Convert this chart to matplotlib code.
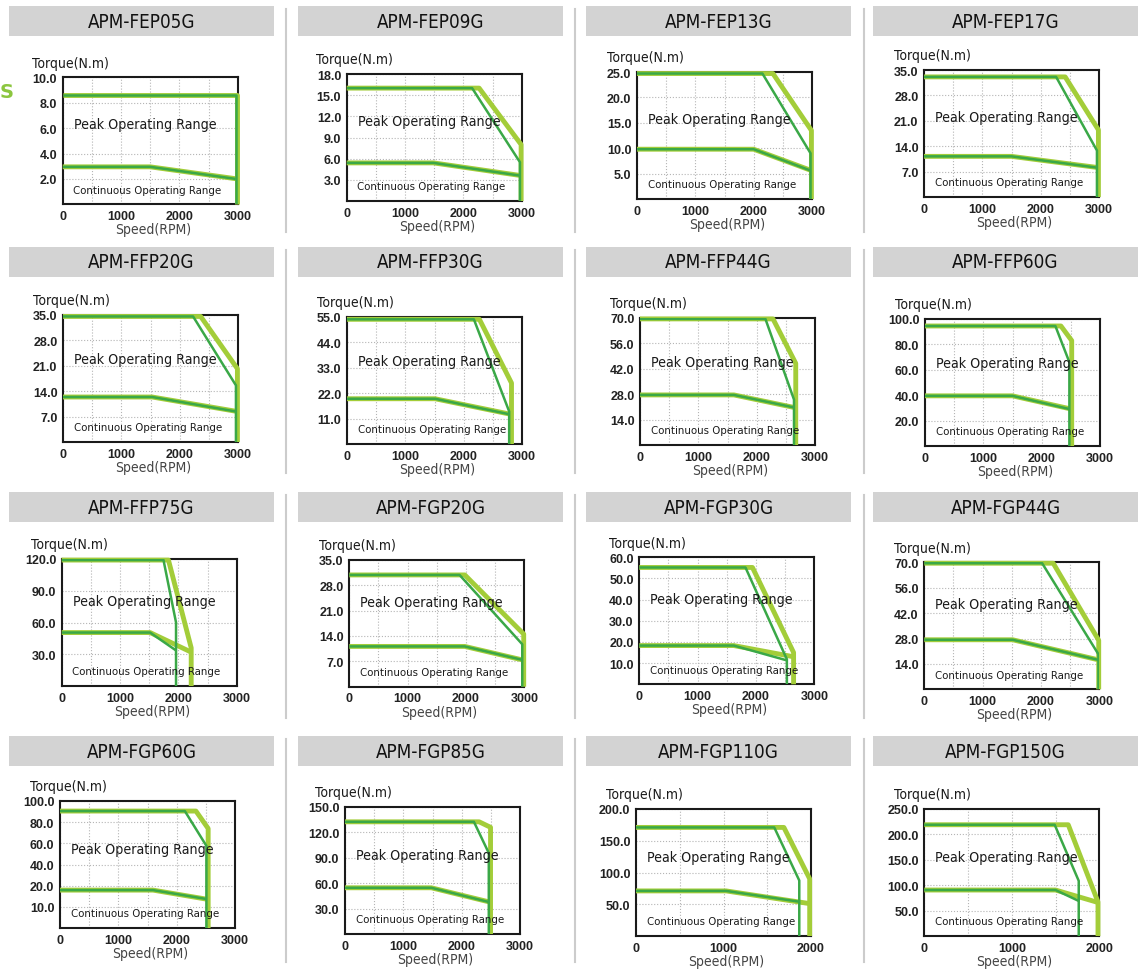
import numpy as np
import matplotlib
matplotlib.use('Agg')
import matplotlib.pyplot as plt
from matplotlib.patches import Rectangle
from matplotlib.lines import Line2D

# --- data ---
models = ["APM-FEP05G", "APM-FEP09G", "APM-FEP13G", "APM-FEP17G",
          "APM-FFP20G", "APM-FFP30G", "APM-FFP44G", "APM-FFP60G",
          "APM-FFP75G", "APM-FGP20G", "APM-FGP30G", "APM-FGP44G",
          "APM-FGP60G", "APM-FGP85G", "APM-FGP110G", "APM-FGP150G"]

speed_max = [3000, 3000, 3000, 3000, 3000, 3000, 3000, 3000,
             3000, 3000, 3000, 3000, 3000, 3000, 2000, 2000]

torque_ticks = [[2, 4, 6, 8, 10], [3, 6, 9, 12, 15, 18], [5, 10, 15, 20, 25], [7, 14, 21, 28, 35],
                [7, 14, 21, 28, 35], [11, 22, 33, 44, 55], [14, 28, 42, 56, 70], [20, 40, 60, 80, 100],
                [30, 60, 90, 120], [7, 14, 21, 28, 35], [10, 20, 30, 40, 50, 60], [14, 28, 42, 56, 70],
                [10, 20, 40, 60, 80, 100], [30, 60, 90, 120, 150], [50, 100, 150, 200], [50, 100, 150, 200, 250]]

# peak torque curve (flat level)
peak_torque = [8.6, 16.0, 24.7, 33.1, 34.6, 54.0, 69.5, 94.5,
               119.0, 30.8, 55.2, 69.5, 90.5, 132.5, 171, 219]
# light (wide) peak curve: knee speed, end speed, end torque
peak_knee_lt = [2990, 2270, 2330, 2420, 2360, 2270, 2280, 2330, 1830, 1980, 1940, 2210, 2330, 2300, 1690, 1645]
peak_end_lt = [2990, 2990, 2990, 2990, 2990, 2820, 2670, 2515, 2220, 2990, 2645, 2990, 2540, 2495, 1985, 1985]
peak_drop_lt = [8.6, 8.0, 13.5, 18.5, 20.2, 26.4, 45, 83, 36, 14.5, 15, 27, 74, 126, 90, 67]
# dark (thin) peak curve
peak_knee_dk = [2965, 2150, 2150, 2265, 2230, 2175, 2150, 2235, 1745, 1890, 1820, 2020, 2140, 2210, 1580, 1490]
peak_end_dk = [2965, 2970, 2975, 2965, 2965, 2780, 2640, 2475, 1960, 2965, 2530, 2985, 2510, 2465, 1866, 1765]
peak_drop_dk = [8.6, 5.5, 9.0, 12.8, 15.6, 14.1, 25, 66, 60, 11.7, 11.8, 19.3, 57.6, 95.6, 87.4, 108.5]

# continuous torque curve
cont_torque = [2.95, 5.4, 9.8, 11.2, 12.4, 19.6, 27.6, 39.5, 50.5, 11.1, 18.3, 27.3, 17.9, 54.6, 71, 90.5]
cont_knee = [1500, 1490, 2000, 1500, 1530, 1510, 1610, 1500, 1515, 1980, 1620, 1515, 1595, 1480, 1030, 1500]
cont_end_lt = [2990, 2990, 2990, 2990, 2990, 2820, 2670, 2515, 2220, 2990, 2645, 2990, 2540, 2495, 1985, 1985]
cont_drop_lt = [2.0, 3.6, 5.6, 8.1, 8.4, 12.8, 20.5, 29, 32, 7.3, 13.0, 16.2, 13.5, 37.5, 51, 66]
cont_end_dk = [2965, 2970, 2975, 2965, 2965, 2780, 2640, 2475, 1960, 2965, 2530, 2985, 2510, 2465, 1866, 1765]
cont_drop_dk = [2.0, 3.6, 5.6, 8.1, 8.4, 12.9, 20.7, 29.1, 33.6, 7.4, 11.3, 16.2, 13.7, 37.8, 54, 69]

# --- layout (pixels of the 1138x970 canvas) ---
W, H = 1138, 970
ax_pos = [(62.7, 78.3), (346.7, 75), (637, 73), (924, 71),
          (63, 316), (347, 318), (640, 319), (925, 320),
          (61.7, 560), (349.3, 560.7), (639.3, 558.3), (924.3, 563.3),
          (60, 802), (345, 808), (636, 810), (924.3, 810)]
AX_W, AX_H = 175, 127
head_cols = [(9, 274), (298, 563), (586, 851), (873, 1138)]
head_rows = [7, 248, 493, 737]
sep_x = [286, 575, 864]
peak_label_y = [0.63, 0.65, 0.67, 0.62]

LIGHT = '#a3cd39'
DARK = '#3aa847'
COND = dict(family='DejaVu Sans', fontstretch='condensed')

plt.rcParams['font.family'] = ['Liberation Sans', 'DejaVu Sans']


def fx(x):
    return x / W


def fy(y):
    return 1 - y / H


def make_scale(ticks):
    src = np.array([0] + list(ticks), dtype=float)
    dst = np.arange(len(src), dtype=float)
    return (lambda v: np.interp(v, src, dst), lambda p: np.interp(p, dst, src))


fig = plt.figure(figsize=(W / 100, H / 100), dpi=100)

# header bands, titles and separators
for r, top in enumerate(head_rows):
    for c, (x0, x1) in enumerate(head_cols):
        fig.add_artist(Rectangle((fx(x0), fy(top + 30)), fx(x1 - x0), 30 / H,
                                 transform=fig.transFigure, facecolor='#d3d3d3', edgecolor='none'))
        fig.text(fx((x0 + x1) / 2), fy(top + 15), models[r * 4 + c], ha='center', va='center',
                 fontsize=13.5, color='#111111', **COND)
    for sx in sep_x:
        fig.add_artist(Line2D([fx(sx), fx(sx)], [fy(top + 3), fy(top + 226)],
                              transform=fig.transFigure, color='#cccccc', lw=1.5))

fig.text(fx(0), fy(92), 'S', color='#8cc63f', fontsize=14, fontweight='bold',
         ha='left', va='center', family='DejaVu Sans')

for i in range(16):
    left, top = ax_pos[i]
    ax = fig.add_axes([fx(left), fy(top + AX_H), AX_W / W, AX_H / H])
    ticks = torque_ticks[i]
    ax.set_yscale('function', functions=make_scale(ticks))
    smax = speed_max[i]
    ax.set_xlim(0, smax)
    ax.set_ylim(0, ticks[-1])

    ax.set_xticks(np.arange(0, smax + 1, 1000), labels=[str(v) for v in range(0, smax + 1, 1000)])
    ax.set_xticks(np.arange(500, smax, 500), minor=True)
    ax.set_yticks(ticks, labels=[f"{t:.1f}" for t in ticks])
    ax.tick_params(which='both', length=0)
    ax.tick_params(axis='x', pad=4)
    ax.tick_params(axis='y', pad=4)
    for lab in ax.get_xticklabels() + ax.get_yticklabels():
        lab.set_fontweight('bold')
        lab.set_fontsize(9)
        lab.set_color('#222222')

    ax.grid(axis='x', which='both', color='#b5b5b5', ls=':', lw=0.8)
    ax.grid(axis='y', which='major', color='#b5b5b5', ls=':', lw=0.8)
    for sp in ax.spines.values():
        sp.set_linewidth(1.5)
        sp.set_color('#1a1a1a')

    T = peak_torque[i]
    C = cont_torque[i]
    # wide light curves
    ax.plot([0, peak_knee_lt[i], peak_end_lt[i], peak_end_lt[i]],
            [T, T, peak_drop_lt[i], 0], color=LIGHT, lw=3.5, zorder=3, clip_on=False,
            solid_capstyle='butt')
    ax.plot([0, cont_knee[i], cont_end_lt[i]],
            [C, C, cont_drop_lt[i]], color=LIGHT, lw=3.5, zorder=3, clip_on=False,
            solid_capstyle='butt')
    # thin dark curves
    ax.plot([0, peak_knee_dk[i], peak_end_dk[i], peak_end_dk[i]],
            [T, T, peak_drop_dk[i], 0], color=DARK, lw=1.8, zorder=4, solid_capstyle='butt')
    ax.plot([0, cont_knee[i], cont_end_dk[i]],
            [C, C, cont_drop_dk[i]], color=DARK, lw=1.8, zorder=4, solid_capstyle='butt')

    ax.text(-0.174, 1.115, 'Torque(N.m)', transform=ax.transAxes, ha='left', va='center',
            fontsize=10, color='#1a1a1a', **COND)
    ax.text(0.515, -0.197, 'Speed(RPM)', transform=ax.transAxes, ha='center', va='center',
            fontsize=10, color='#444444', **COND)
    ax.text(0.47, peak_label_y[i // 4], 'Peak Operating Range', transform=ax.transAxes,
            ha='center', va='center', fontsize=10.2, color='#1a1a1a', zorder=5, **COND)
    ax.text(0.485, 0.115, 'Continuous Operating Range', transform=ax.transAxes,
            ha='center', va='center', fontsize=8.2, color='#1a1a1a', zorder=5, **COND)

fig.savefig('out.png', dpi=100)
